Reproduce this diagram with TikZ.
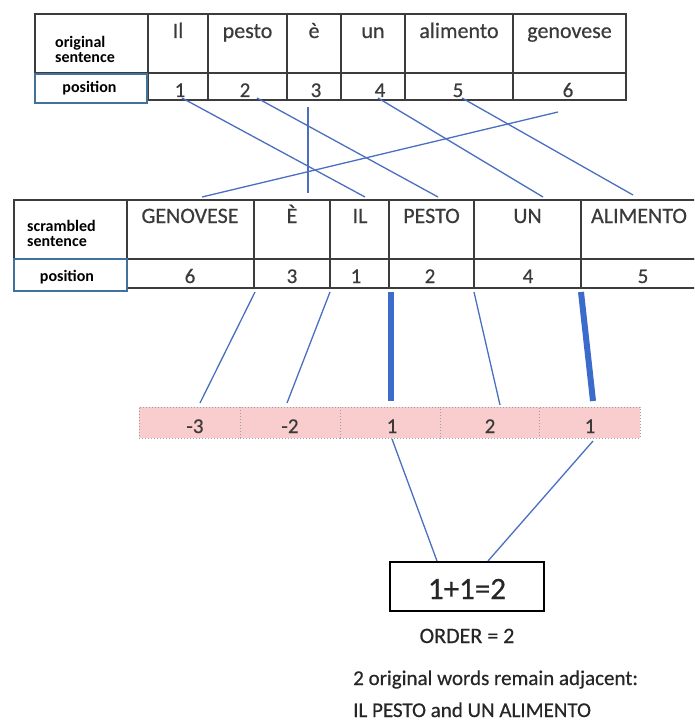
\documentclass[tikz,border=0pt]{standalone}
\usepackage{fontspec}
\setmainfont{Carlito}[UprightFeatures={FakeBold=0.5}]
\definecolor{tblc}{HTML}{3C3C3C}
\definecolor{txtc}{HTML}{3A3A3A}
\definecolor{lblc}{HTML}{41719C}
\definecolor{linec}{HTML}{4A6EC0}
\definecolor{thickc}{HTML}{3B6CCB}
\definecolor{pinkc}{HTML}{F9CDCD}
\begin{document}
\begin{tikzpicture}[x=1pt,y=-1pt,
  cell/.style={draw=tblc, line width=1.4pt, inner sep=0pt, outer sep=0pt, minimum height=#1},
  lblbox/.style={draw=lblc, line width=1.2pt, fill=white, inner sep=0pt, outer sep=0pt},
  word/.style={font=\fontsize{22}{24}\selectfont, text=txtc, inner sep=0pt, anchor=base},
  num/.style={font=\fontsize{21}{23}\selectfont, text=txtc, inner sep=0pt, anchor=base},
  lbl/.style={font=\bfseries\fontsize{16}{18}\selectfont, text=black, inner sep=0pt},
  conn/.style={draw=linec, line width=1.3pt},
  boldconn/.style={draw=thickc, line width=6pt},
  pinkcell/.style={fill=pinkc, draw=gray!75, dotted, line width=1pt, inner sep=0pt, outer sep=0pt, minimum height=31},
  pinktxt/.style={font=\fontsize{21}{23}\selectfont, text=txtc, inner sep=0pt, anchor=base},
  note/.style={font=\fontsize{21}{24}\selectfont, text=black!85, inner sep=0pt}
]
\useasboundingbox (0,0) rectangle (694,722);
\clip (0,0) rectangle (694,722);

% ---------- original sentence table ----------
\node[cell=59, minimum width=113] (ol) at (91.5,43.5) {};
\node[cell=59, minimum width=60]  (o1) at (178,43.5) {};
\node[cell=59, minimum width=79]  (o2) at (247.5,43.5) {};
\node[cell=59, minimum width=54]  (o3) at (314,43.5) {};
\node[cell=59, minimum width=64]  (o4) at (373,43.5) {};
\node[cell=59, minimum width=108] (o5) at (459,43.5) {};
\node[cell=59, minimum width=113] (o6) at (569.5,43.5) {};
\node[cell=27, minimum width=60]  (p1) at (178,86.5) {};
\node[cell=27, minimum width=79]  (p2) at (247.5,86.5) {};
\node[cell=27, minimum width=54]  (p3) at (314,86.5) {};
\node[cell=27, minimum width=64]  (p4) at (373,86.5) {};
\node[cell=27, minimum width=108] (p5) at (459,86.5) {};
\node[cell=27, minimum width=113] (p6) at (569.5,86.5) {};
\node[lblbox, minimum width=112, minimum height=29] (pl) at (91,88.5) {};

\node[lbl, anchor=base west] (olt1) at (55,48) {original};
\node[lbl, anchor=base west] (olt2) at (55,63) {sentence};
\node[lbl, anchor=base] (plt) at (89.5,93) {position};

\node[word] (w1) at (178,38) {Il};
\node[word] (w2) at (247.5,38) {pesto};
\node[word] (w3) at (314,38) {è};
\node[word] (w4) at (373,38) {un};
\node[word] (w5) at (459,38) {alimento};
\node[word] (w6) at (569.5,38) {genovese};

\node[num] (n1) at (180,97) {1};
\node[num] (n2) at (245,97) {2};
\node[num] (n3) at (316,97) {3};
\node[num] (n4) at (380,97) {4};
\node[num] (n5) at (458,97) {5};
\node[num] (n6) at (568,97) {6};

% ---------- scrambled sentence table ----------
\node[cell=59, minimum width=113] (sl) at (70.5,229.5) {};
\node[cell=59, minimum width=127] (s1) at (190.5,229.5) {};
\node[cell=59, minimum width=76]  (s2) at (292,229.5) {};
\node[cell=59, minimum width=59]  (s3) at (359.5,229.5) {};
\node[cell=59, minimum width=85]  (s4) at (431.5,229.5) {};
\node[cell=59, minimum width=107] (s5) at (527.5,229.5) {};
\node[cell=59, minimum width=129] (s6) at (645.5,229.5) {};
\node[cell=29, minimum width=127] (q1) at (190.5,273.5) {};
\node[cell=29, minimum width=76]  (q2) at (292,273.5) {};
\node[cell=29, minimum width=59]  (q3) at (359.5,273.5) {};
\node[cell=29, minimum width=85]  (q4) at (431.5,273.5) {};
\node[cell=29, minimum width=107] (q5) at (527.5,273.5) {};
\node[cell=29, minimum width=129] (q6) at (645.5,273.5) {};
\node[lblbox, minimum width=113, minimum height=32] (ql) at (70.5,275) {};

\node[lbl, anchor=base west] (slt1) at (27,231) {scrambled};
\node[lbl, anchor=base west] (slt2) at (27,246) {sentence};
\node[lbl, anchor=base] (qlt) at (67,281) {position};

\node[word] (u1) at (190,223) {GENOVESE};
\node[word] (u2) at (292,223) {È};
\node[word] (u3) at (360,223) {IL};
\node[word] (u4) at (431.5,223) {PESTO};
\node[word] (u5) at (527.5,223) {UN};
\node[word] (u6) at (639,223) {ALIMENTO};

\node[num] (m1) at (190,283) {6};
\node[num] (m2) at (292,283) {3};
\node[num] (m3) at (356,283) {1};
\node[num] (m4) at (430,283) {2};
\node[num] (m5) at (528,283) {4};
\node[num] (m6) at (643,283) {5};

% ---------- crossing connectors ----------
\coordinate (a1) at (182,98);  \coordinate (b1) at (365,197);
\coordinate (a2) at (257,98);  \coordinate (b2) at (438,197);
\coordinate (a3) at (308,107); \coordinate (b3) at (308,193);
\coordinate (a4) at (378,98);  \coordinate (b4) at (543,197);
\coordinate (a5) at (462,98);  \coordinate (b5) at (633,195);
\coordinate (a6) at (558,112); \coordinate (b6) at (202,197);
\draw[conn] (a1) -- (b1);
\draw[conn] (a2) -- (b2);
\draw[conn] (a3) -- (b3);
\draw[conn] (a4) -- (b4);
\draw[conn] (a5) -- (b5);
\draw[conn] (a6) -- (b6);

% ---------- difference row ----------
\node[pinkcell, minimum width=101] (d1) at (189.5,422.5) {};
\node[pinkcell, minimum width=100] (d2) at (290,422.5) {};
\node[pinkcell, minimum width=100] (d3) at (390,422.5) {};
\node[pinkcell, minimum width=99]  (d4) at (489.5,422.5) {};
\node[pinkcell, minimum width=101] (d5) at (589.5,422.5) {};
\node[pinktxt] (dt1) at (195,433) {-3};
\node[pinktxt] (dt2) at (290,433) {-2};
\node[pinktxt] (dt3) at (392,433) {1};
\node[pinktxt] (dt4) at (490,433) {2};
\node[pinktxt] (dt5) at (590,433) {1};

\coordinate (e1) at (255,292); \coordinate (f1) at (200,403);
\coordinate (e2) at (330,292); \coordinate (f2) at (287,403);
\coordinate (e3) at (391,292); \coordinate (f3) at (391,401);
\coordinate (e4) at (474,292); \coordinate (f4) at (500,405);
\coordinate (e5) at (581,292); \coordinate (f5) at (593,401);
\draw[conn] (e1) -- (f1);
\draw[conn] (e2) -- (f2);
\draw[boldconn] (e3) -- (f3);
\draw[conn] (e4) -- (f4);
\draw[boldconn] (e5) -- (f5);

% ---------- result ----------
\node[draw=black, line width=2.2pt, minimum width=154, minimum height=49, inner sep=0pt] (res) at (467,586.5) {};
\node[font=\fontsize{31}{33}\selectfont, text=black!85, inner sep=0pt, anchor=base] (rest) at (467,599) {1+1=2};
\coordinate (g1) at (392,439); \coordinate (h1) at (437,561);
\coordinate (g2) at (593,441); \coordinate (h2) at (488,561);
\draw[conn] (g1) -- (h1);
\draw[conn] (g2) -- (h2);

\node[note, font=\fontsize{22}{24}\selectfont, anchor=base] (ord) at (467,643) {ORDER = 2};
\node[note, anchor=base west] (ex1) at (353,685) {2 original words remain adjacent:};
\node[note, anchor=base west] (ex2) at (353,717) {IL PESTO and UN ALIMENTO};
\end{tikzpicture}
\end{document}
